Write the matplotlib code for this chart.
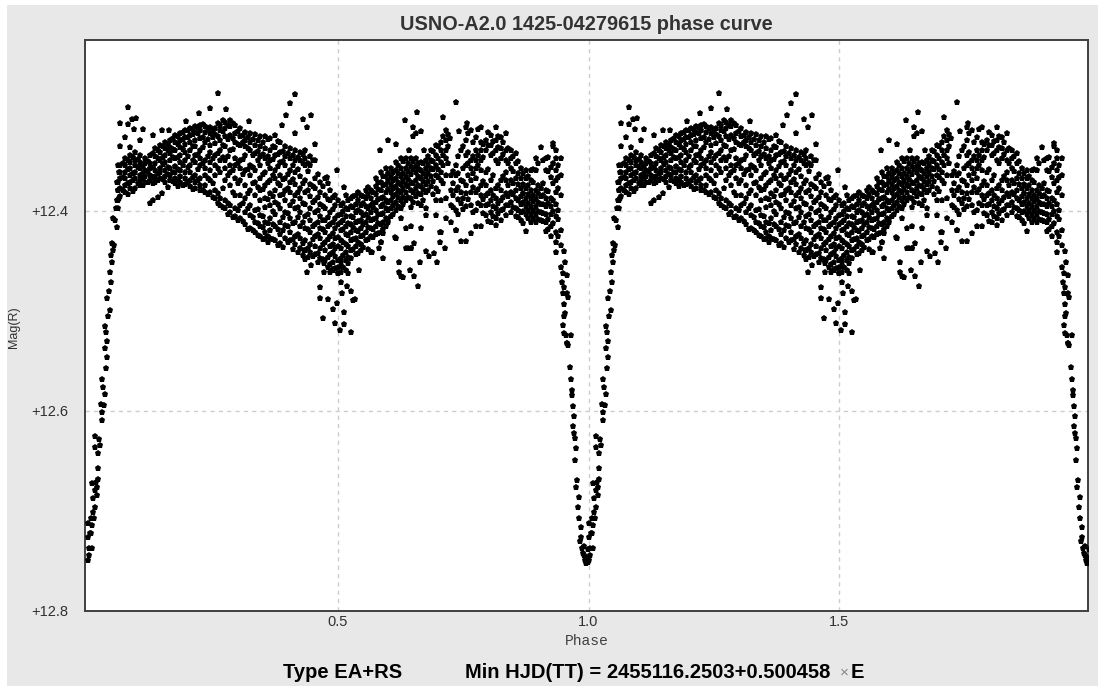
import matplotlib
matplotlib.use("Agg")
import matplotlib.pyplot as plt
from matplotlib.patches import Rectangle

# (phase, magnitude) of the steep branches around primary minimum
egress = [
    (0.001, 12.749), (0.002, 12.744), (0.003, 12.737), (0.001, 12.726), (0.005, 12.722), (0.001, 12.712),
    (0.007, 12.707), (0.011, 12.701), (0.015, 12.696), (0.011, 12.687), (0.019, 12.684), (0.019, 12.676),
    (0.009, 12.672), (0.017, 12.671), (0.008, 12.737), (0.007, 12.722), (0.009, 12.714), (0.013, 12.707),
    (0.015, 12.679), (0.021, 12.668), (0.021, 12.657), (0.021, 12.642), (0.015, 12.636), (0.015, 12.625),
    (0.029, 12.609), (0.025, 12.634), (0.023, 12.628), (0.029, 12.601), (0.027, 12.593), (0.033, 12.594),
    (0.035, 12.583), (0.031, 12.576), (0.029, 12.568), (0.037, 12.557), (0.039, 12.546), (0.035, 12.537),
    (0.037, 12.521), (0.039, 12.530), (0.035, 12.515), (0.039, 12.487), (0.045, 12.499), (0.041, 12.505),
    (0.043, 12.480), (0.047, 12.471), (0.045, 12.461), (0.049, 12.451), (0.047, 12.444), (0.051, 12.439),
    (0.053, 12.434), (0.049, 12.432), (0.055, 12.409), (0.051, 12.407), (0.059, 12.416), (0.057, 12.397),
    (0.059, 12.389), (0.061, 12.379), (0.059, 12.371), (0.062, 12.361), (0.060, 12.354), (0.063, 12.387),
]
ingress = [
    (0.951, 12.440), (0.953, 12.451), (0.945, 12.456), (0.949, 12.462), (0.957, 12.464), (0.947, 12.471),
    (0.951, 12.476), (0.957, 12.482), (0.949, 12.482), (0.959, 12.486), (0.951, 12.493), (0.953, 12.502),
    (0.952, 12.505), (0.949, 12.514), (0.951, 12.522), (0.956, 12.524), (0.958, 12.532), (0.959, 12.534),
    (0.965, 12.524), (0.957, 12.532), (0.963, 12.556), (0.965, 12.568), (0.967, 12.579), (0.968, 12.584),
    (0.970, 12.595), (0.971, 12.605), (0.969, 12.615), (0.971, 12.622), (0.973, 12.627), (0.975, 12.637),
    (0.973, 12.649), (0.977, 12.669), (0.975, 12.676), (0.981, 12.686), (0.979, 12.696), (0.981, 12.707),
    (0.985, 12.716), (0.983, 12.730), (0.987, 12.737), (0.986, 12.726), (0.989, 12.742), (0.991, 12.744),
    (0.993, 12.749), (0.996, 12.746), (0.998, 12.738), (0.995, 12.752), (0.999, 12.751), (0.992, 12.735),
]
# isolated points above and below the main band
scatter_high = [
    (0.261, 12.282), (0.415, 12.283), (0.405, 12.292), (0.081, 12.296), (0.245, 12.297), (0.223, 12.302),
    (0.277, 12.298), (0.397, 12.304), (0.447, 12.304), (0.431, 12.308), (0.439, 12.316), (0.389, 12.314),
    (0.415, 12.322), (0.455, 12.333), (0.065, 12.312), (0.097, 12.307), (0.089, 12.308), (0.081, 12.313),
    (0.093, 12.318), (0.111, 12.318), (0.131, 12.324), (0.149, 12.319), (0.163, 12.319), (0.197, 12.310),
    (0.323, 12.310), (0.105, 12.329), (0.075, 12.326), (0.065, 12.335), (0.085, 12.336), (0.497, 12.359),
    (0.479, 12.366), (0.511, 12.376), (0.583, 12.339), (0.599, 12.329), (0.615, 12.333), (0.633, 12.309),
    (0.657, 12.301), (0.649, 12.316), (0.665, 12.320), (0.649, 12.325), (0.655, 12.322), (0.641, 12.339),
    (0.671, 12.339), (0.709, 12.306), (0.735, 12.291), (0.723, 12.327), (0.741, 12.320), (0.757, 12.312),
    (0.929, 12.332),
]
scatter_low = [
    (0.131, 12.389), (0.141, 12.386), (0.149, 12.382), (0.125, 12.392), (0.465, 12.476), (0.465, 12.487),
    (0.481, 12.488), (0.471, 12.507), (0.495, 12.512), (0.491, 12.498), (0.497, 12.492), (0.503, 12.519),
    (0.511, 12.513), (0.525, 12.521), (0.511, 12.501), (0.507, 12.482), (0.505, 12.471), (0.517, 12.475),
    (0.525, 12.480), (0.529, 12.489), (0.533, 12.488), (0.541, 12.459), (0.519, 12.462), (0.499, 12.462),
    (0.485, 12.461), (0.473, 12.461), (0.473, 12.452), (0.491, 12.451), (0.505, 12.451), (0.499, 12.456),
    (0.491, 12.459), (0.439, 12.461), (0.447, 12.454), (0.435, 12.448), (0.433, 12.439), (0.567, 12.441),
    (0.581, 12.437), (0.589, 12.447), (0.585, 12.431), (0.589, 12.422), (0.599, 12.411), (0.613, 12.426),
    (0.621, 12.451), (0.621, 12.461), (0.625, 12.465), (0.629, 12.466), (0.639, 12.437), (0.645, 12.437),
    (0.651, 12.432), (0.643, 12.459), (0.651, 12.465), (0.659, 12.475), (0.663, 12.451), (0.675, 12.440),
    (0.681, 12.445), (0.691, 12.442), (0.697, 12.451), (0.703, 12.431), (0.713, 12.437), (0.703, 12.421),
    (0.735, 12.419),
]

# main band: phase of each column, and mag - 12 in millimag for the points in it
band_phase = [
    0.061, 0.065, 0.075, 0.085, 0.095, 0.105, 0.115, 0.125, 0.135, 0.145, 0.155, 0.165, 0.175, 0.185, 0.195,
    0.205, 0.215, 0.225, 0.235, 0.245, 0.255, 0.265, 0.275, 0.285, 0.295, 0.305, 0.315, 0.325, 0.335, 0.345,
    0.355, 0.365, 0.375, 0.385, 0.395, 0.405, 0.415, 0.425, 0.435, 0.445, 0.455, 0.465, 0.475, 0.485, 0.495,
    0.505, 0.515, 0.525, 0.535, 0.545, 0.555, 0.565, 0.575, 0.585, 0.595, 0.605, 0.615, 0.625, 0.635, 0.645,
    0.655, 0.665, 0.675, 0.685, 0.695, 0.705, 0.715, 0.725, 0.735, 0.745, 0.755, 0.765, 0.775, 0.785, 0.795,
    0.805, 0.815, 0.825, 0.835, 0.845, 0.855, 0.865, 0.875, 0.885, 0.895, 0.905, 0.915, 0.925, 0.935, 0.945,
]
band_mmag = [
    [371, 379, 389, 397], [354, 361, 367, 377, 385], [347, 354, 361, 367, 374, 381], [344, 351, 357, 364, 371, 377],
    [341, 349, 354, 361, 367, 377], [344, 351, 357, 364, 369, 374], [347, 352, 359, 365, 371], [344, 352, 357, 364, 369],
    [337, 345, 352, 359, 365, 371], [334, 341, 349, 357, 361, 367], [331, 337, 344, 351, 359, 365, 371],
    [329, 336, 342, 349, 357, 364, 369], [324, 331, 339, 347, 355, 361, 367, 372], [322, 329, 336, 344, 351, 359, 365, 371],
    [319, 326, 333, 341, 349, 361, 367, 373], [317, 324, 331, 339, 354, 361, 369, 375],
    [315, 321, 329, 335, 344, 351, 364, 371, 377], [314, 319, 327, 339, 347, 354, 367, 374, 379],
    [315, 321, 331, 349, 357, 364, 374, 381], [316, 322, 334, 341, 351, 359, 369, 381],
    [317, 323, 332, 344, 354, 364, 379, 387], [314, 319, 329, 339, 349, 361, 387, 394],
    [311, 317, 325, 335, 349, 357, 369, 389, 397], [309, 315, 324, 339, 354, 361, 374, 394, 401],
    [314, 322, 331, 347, 354, 367, 384, 397, 405], [317, 325, 334, 349, 357, 369, 384, 394, 407],
    [321, 329, 335, 344, 359, 374, 387, 401, 413], [322, 331, 339, 354, 364, 379, 394, 404, 417],
    [323, 334, 342, 359, 371, 384, 399, 411, 421], [325, 335, 345, 354, 367, 379, 389, 404, 415, 425],
    [325, 337, 347, 361, 374, 387, 396, 411, 421, 427], [327, 339, 349, 357, 369, 382, 394, 407, 419, 427],
    [324, 336, 344, 359, 367, 379, 391, 403, 415, 429], [331, 341, 351, 364, 374, 384, 397, 411, 423, 432],
    [335, 345, 354, 367, 379, 389, 401, 414, 427], [337, 347, 359, 371, 381, 394, 407, 421, 429],
    [339, 349, 361, 373, 384, 397, 411, 425, 433], [341, 349, 365, 377, 387, 401, 415, 427, 437],
    [339, 347, 354, 369, 381, 393, 405, 417, 429, 439], [345, 354, 373, 385, 397, 409, 421, 433, 441],
    [349, 367, 377, 389, 401, 413, 425, 435, 443], [371, 381, 393, 405, 417, 427, 437, 447],
    [367, 384, 397, 409, 421, 431, 439, 449], [379, 389, 401, 413, 425, 435, 443, 453],
    [384, 394, 407, 417, 427, 437, 445, 457], [394, 403, 411, 419, 429, 437, 447, 455, 461],
    [384, 397, 405, 415, 423, 433, 441, 449, 459], [387, 395, 405, 413, 421, 429, 439, 447],
    [384, 393, 401, 411, 419, 427, 435, 443], [384, 394, 401, 409, 417, 425, 433, 439],
    [379, 387, 395, 403, 411, 421, 429], [379, 387, 394, 401, 409, 417, 425, 441],
    [367, 375, 383, 391, 399, 407, 415, 423], [361, 371, 379, 387, 395, 403, 413, 421, 431],
    [357, 365, 373, 381, 389, 397, 407, 415], [357, 365, 373, 381, 389, 397, 405],
    [351, 359, 367, 375, 383, 391, 399, 427], [347, 357, 365, 373, 381, 389, 397, 407],
    [347, 357, 365, 373, 381, 389, 417, 437], [347, 355, 363, 371, 379, 387, 396, 415, 437],
    [347, 355, 361, 369, 377, 385], [351, 359, 367, 375, 383, 394, 417], [349, 357, 365, 373, 381, 397, 404],
    [339, 349, 357, 365, 375], [334, 344, 354, 364, 377, 389, 404], [331, 339, 351, 361, 369, 389, 421],
    [319, 329, 339, 347, 364, 387, 407], [364, 379, 394, 411], [354, 364, 379, 399, 419],
    [339, 369, 381, 392, 430], [316, 329, 344, 354, 374, 382, 395, 430], [319, 349, 357, 369, 381, 394, 422],
    [326, 339, 349, 357, 367, 381, 399, 415], [316, 331, 339, 349, 359, 374, 384, 394, 415],
    [329, 339, 361, 374, 384, 394, 404], [324, 334, 344, 369, 379, 389, 401, 411],
    [316, 329, 339, 349, 377, 387, 397, 407, 414], [326, 337, 347, 369, 379, 389, 399, 409],
    [322, 339, 349, 361, 369, 382, 394, 404], [339, 347, 357, 369, 381, 391, 401],
    [342, 352, 367, 379, 387, 397, 405], [357, 367, 377, 385, 393, 401, 409],
    [359, 367, 377, 387, 395, 403, 420], [359, 369, 379, 387, 395, 403, 411],
    [347, 359, 379, 387, 395, 403, 411], [336, 377, 385, 393, 401, 409],
    [347, 359, 379, 387, 395, 403, 411, 420], [356, 366, 387, 395, 403, 415, 425],
    [339, 347, 359, 369, 381, 393, 405, 421, 431, 441], [347, 364, 384, 419, 434],
]
# second pass over the band, points lying between the columns above
fill_phase = [
    0.070, 0.080, 0.090, 0.100, 0.110, 0.120, 0.130, 0.140, 0.150, 0.160, 0.170, 0.180, 0.190, 0.200, 0.210,
    0.220, 0.230, 0.240, 0.250, 0.260, 0.270, 0.280, 0.290, 0.300, 0.310, 0.320, 0.330, 0.340, 0.350, 0.360,
    0.370, 0.380, 0.390, 0.400, 0.410, 0.420, 0.430, 0.440, 0.450, 0.460, 0.470, 0.480, 0.490, 0.500, 0.510,
    0.520, 0.530, 0.540, 0.550, 0.560, 0.570, 0.580, 0.590, 0.600, 0.610, 0.620, 0.630, 0.640, 0.650, 0.660,
    0.670, 0.680, 0.690, 0.700, 0.710, 0.720, 0.730, 0.740, 0.750, 0.760, 0.770, 0.780, 0.790, 0.800, 0.810,
    0.820, 0.830, 0.840, 0.850, 0.860, 0.870, 0.880, 0.890, 0.900, 0.910, 0.920, 0.930, 0.940,
]
fill_mmag = [
    [352, 366, 379], [349, 358, 372, 383], [346, 362, 369, 380], [348, 356, 372], [355, 362, 367, 374],
    [350, 360, 371], [342, 356, 366, 372], [339, 347, 362, 369], [335, 346, 353, 368], [333, 339, 356, 363, 376],
    [327, 338, 346, 361, 370], [325, 333, 346, 358, 369, 375], [321, 328, 338, 354, 374], [319, 326, 345, 356, 371],
    [318, 323, 335, 349, 366, 378], [316, 322, 343, 358, 369], [313, 326, 336, 352, 379], [317, 328, 345, 367, 383],
    [319, 326, 347, 372, 386], [312, 325, 342, 357, 382, 392], [309, 320, 334, 346, 377, 396],
    [314, 328, 345, 364, 392, 403], [312, 327, 338, 359, 381, 406], [320, 333, 352, 372, 399, 409],
    [324, 331, 348, 363, 392, 410], [326, 337, 358, 382, 397, 418], [328, 344, 356, 372, 406, 419],
    [329, 340, 349, 376, 398, 412, 424], [331, 343, 363, 378, 405, 416, 428], [328, 345, 352, 371, 388, 412, 425, 431],
    [335, 348, 364, 385, 400, 413, 428], [330, 343, 355, 372, 393, 418, 434], [340, 350, 368, 383, 406, 419, 436],
    [342, 363, 377, 402, 415, 431], [344, 354, 368, 390, 412, 428, 438], [346, 358, 381, 396, 406, 423, 441],
    [343, 352, 372, 392, 411, 432, 444], [352, 360, 379, 403, 418, 437, 446], [349, 375, 391, 415, 428, 445],
    [363, 386, 399, 411, 423, 442, 451], [375, 395, 409, 418, 433, 448], [372, 388, 406, 415, 428, 446, 456],
    [386, 398, 411, 422, 433, 441, 458], [389, 404, 413, 426, 435, 449, 462], [392, 400, 409, 418, 431, 444, 456],
    [389, 398, 412, 424, 435, 446, 452], [385, 396, 406, 416, 428, 438], [381, 389, 399, 410, 420, 431, 442],
    [385, 392, 404, 413, 424, 436], [376, 383, 397, 406, 416, 428, 438], [381, 392, 396, 408, 418, 426],
    [371, 378, 388, 403, 412, 422], [365, 374, 386, 393, 402, 411, 418], [362, 369, 378, 391, 399, 408],
    [361, 369, 377, 385, 394, 403], [354, 362, 371, 379, 386, 395], [350, 362, 369, 377, 386, 393],
    [352, 360, 368, 375, 386], [350, 358, 372, 381, 391], [352, 357, 365, 374, 382, 392], [352, 362, 370, 378, 389],
    [345, 353, 361, 370, 379], [340, 350, 358, 370, 383], [335, 347, 358, 366, 380], [325, 344, 354, 372],
    [323, 335, 352], [360, 372, 384, 396], [345, 362, 376, 388, 403], [335, 357, 370, 387, 398],
    [322, 341, 352, 364, 388], [331, 345, 362, 376, 401], [318, 344, 354, 378, 392], [333, 346, 370, 388, 402],
    [321, 334, 358, 382, 393, 410], [330, 342, 364, 384, 395, 405], [325, 336, 352, 374, 392, 402],
    [331, 343, 365, 386, 398], [337, 352, 374, 385, 394], [345, 360, 372, 383, 396], [350, 362, 373, 389, 399, 406],
    [362, 373, 382, 391, 400, 412], [365, 374, 383, 392, 399, 407], [358, 371, 384, 390, 399, 407],
    [352, 374, 382, 391, 400, 408], [349, 372, 384, 393, 402, 410], [346, 360, 380, 392, 408, 418],
    [335, 352, 372, 389, 400, 412], [354, 366, 377, 399, 408, 425],
]

phase_ticks = [0.5, 1.0, 1.5]
phase_labels = ["0.5", "1.0", "1.5"]
mag_ticks = [12.4, 12.6, 12.8]
mag_labels = ["+12.4", "+12.6", "+12.8"]

points = egress + ingress + scatter_high + scatter_low
phase = [p[0] for p in points]
mag = [p[1] for p in points]
for col_phase, col in list(zip(band_phase, band_mmag)) + list(zip(fill_phase, fill_mmag)):
    for m in col:
        phase.append(col_phase)
        mag.append(12 + m / 1000)

plt.rcParams["font.family"] = ["Liberation Sans", "DejaVu Sans"]

fig = plt.figure(figsize=(10.98, 6.86), dpi=100, facecolor="white")
W, H = 1098.0, 686.0
fig.patches.append(Rectangle((7 / W, 0), 1 - 7 / W, 1 - 5 / H, transform=fig.transFigure,
                             facecolor="#e8e8e8", edgecolor="none", zorder=-10))

ax = fig.add_axes([85 / W, 1 - 610.5 / H, 1003 / W, 570.5 / H])
ax.set_facecolor("white")
ax.plot(phase, mag, "p", color="black", ms=5, mew=0, zorder=3)
ax.plot([p + 1 for p in phase], mag, "p", color="black", ms=5, mew=0, zorder=3)

ax.set_xlim(-0.005, 1.997)
ax.set_ylim(12.8, 12.2295)
ax.set_xticks(phase_ticks)
ax.set_xticklabels(phase_labels)
ax.set_yticks(mag_ticks)
ax.set_yticklabels(mag_labels)
ax.tick_params(length=0, labelsize=10.5, labelcolor="#303030")
ax.tick_params(axis="x", pad=3)
ax.tick_params(axis="y", pad=12)
ax.grid(True, color="#cccccc", linestyle=(0, (3, 3)), linewidth=1)
ax.set_axisbelow(True)
for s in ax.spines.values():
    s.set_color("#404040")
    s.set_linewidth(1.4)

fig.text(586.5 / W, 1 - 25 / H, "USNO-A2.0 1425-04279615 phase curve", ha="center", va="center",
         fontsize=14.3, fontweight="bold", color="#333333")
fig.text(14 / W, 1 - 327 / H, "Mag(R)", rotation=90, ha="center", va="center", fontsize=9, color="#303030")
fig.text(587 / W, 1 - 641 / H, "Phase", ha="center", va="center", fontsize=10.5,
         family="Liberation Mono", color="#404040")
fig.text(283 / W, 1 - 672 / H, "Type EA+RS", ha="left", va="center", fontsize=14.5, fontweight="bold")
fig.text(465 / W, 1 - 672 / H, "Min HJD(TT) = 2455116.2503+0.500458", ha="left", va="center",
         fontsize=14.5, fontweight="bold")
fig.text(844 / W, 1 - 673 / H, "\u00d7", ha="center", va="center", fontsize=11, color="#888888")
fig.text(851 / W, 1 - 672 / H, "E", ha="left", va="center", fontsize=14.5, fontweight="bold")

fig.savefig("out.png", dpi=100, facecolor="white")
